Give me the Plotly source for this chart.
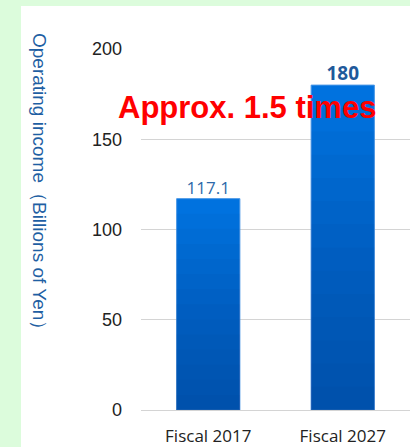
import plotly.graph_objects as go

# Operating income by fiscal year (billions of yen)
categories = ["Fiscal 2017", "Fiscal 2027"]
values = [117.1, 180]
value_labels = ["117.1", "180"]
y_ticks = [0, 50, 100, 150, 200]

W, H = 410, 447
L, R, T, B = 141, 0, 49, 37
plot_w = W - L - R
plot_h = H - T - B

fig = go.Figure()

# base bars (top colour of the gradient)
fig.add_trace(go.Bar(
    x=categories, y=values,
    marker=dict(color="#0072DF", line=dict(color="#4A97E6", width=1)),
    width=0.47, hoverinfo="skip", showlegend=False,
))

# darkening layers, stacked translucently toward the bar base
n_layers = 14
for i in range(1, n_layers):
    frac = 1 - i / n_layers
    fig.add_trace(go.Bar(
        x=categories, y=[v * frac for v in values],
        marker=dict(color="rgba(0,40,110,0.045)", line=dict(width=0)),
        width=0.47, hoverinfo="skip", showlegend=False,
    ))

# value labels above bars
fig.add_trace(go.Scatter(
    x=categories, y=values, mode="text",
    text=[f"<b>{t}</b>" if i == 1 else t for i, t in enumerate(value_labels)],
    textposition="top center",
    textfont=dict(family="Open Sans, Liberation Sans", size=[17, 19],
                  color=["#2E6AAA", "#1F5A9B"]),
    cliponaxis=False, hoverinfo="skip", showlegend=False,
))


def px_x(px):
    return (px - L) / plot_w


def px_y(py):
    return (H - B - py) / plot_h


fig.update_layout(
    width=W, height=H,
    margin=dict(l=L, r=R, t=T, b=B, pad=0),
    paper_bgcolor="#DCFCDC",
    plot_bgcolor="rgba(0,0,0,0)",
    barmode="overlay",
    bargap=0.53,
    showlegend=False,
    shapes=[dict(
        type="rect", xref="paper", yref="paper", layer="below",
        x0=px_x(21), x1=px_x(W + 5), y0=px_y(H + 5), y1=px_y(6),
        fillcolor="white", line=dict(width=0),
    )],
    xaxis=dict(
        range=[-0.5, 1.5], showgrid=False, zeroline=False, showline=False,
        ticks="", ticklabelstandoff=14, automargin=False,
        tickfont=dict(family="Open Sans, Liberation Sans", size=17, color="#222222"),
        fixedrange=True,
    ),
    yaxis=dict(
        range=[0, 200], tickvals=y_ticks, showgrid=True, automargin=False,
        gridcolor="#D4D4D4", gridwidth=1, zeroline=True, zerolinecolor="#D4D4D4",
        zerolinewidth=1, showline=False, ticks="", ticklabelstandoff=18,
        tickfont=dict(family="Liberation Sans, Arial", size=18, color="#222222"),
        fixedrange=True,
    ),
    annotations=[
        dict(
            text="Operating income（Billions of Yen）",
            xref="paper", yref="paper", x=px_x(40), y=px_y(186),
            xanchor="center", yanchor="middle",
            showarrow=False, textangle=90,
            font=dict(family="Liberation Sans, Arial", size=19, color="#1F5FA3"),
        ),
        dict(
            text="<b>Approx. 1.5 times</b>",
            xref="paper", yref="paper", x=px_x(247), y=px_y(107),
            xanchor="center", yanchor="middle",
            showarrow=False,
            font=dict(family="Liberation Sans, Arial", size=31, color="#FF0000"),
        ),
    ],
)

fig.write_html("out.html")
